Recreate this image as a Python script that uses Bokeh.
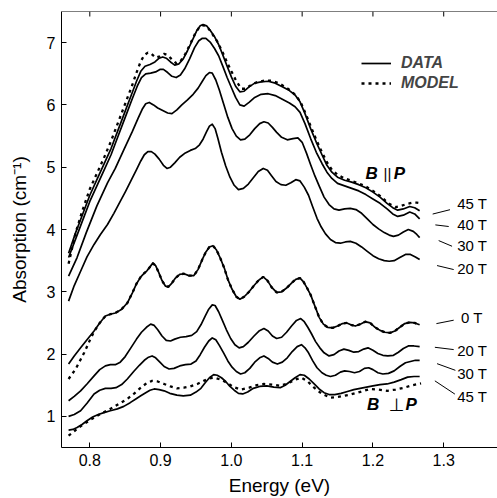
import math
from bokeh.plotting import figure
from bokeh.models import Range1d, FixedTicker, PrintfTickFormatter, Legend, LegendItem, Span
from bokeh.core.properties import value
from bokeh.embed import file_html
from bokeh.resources import INLINE

FONT = "Liberation Sans"

# ---------------- data ----------------
# B || P, data
par45_x = [0.770,0.780,0.790,0.800,0.810,0.820,0.830,0.840,0.850,0.860,0.866,0.872,0.878,0.885,0.892,0.898,0.903,0.908,0.914,0.920,0.926,0.932,0.938,0.945,0.951,0.956,0.960,0.965,0.970,0.976,0.982,0.988,0.994,1.000,1.006,1.012,1.018,1.025,1.033,1.042,1.052,1.062,1.072,1.082,1.090,1.097,1.104,1.112,1.120,1.128,1.135,1.142,1.150,1.160,1.170,1.180,1.190,1.200,1.210,1.220,1.228,1.235,1.243,1.252,1.259,1.266]
par45_y = [3.62,3.95,4.25,4.55,4.80,5.05,5.30,5.60,5.90,6.20,6.38,6.54,6.62,6.65,6.69,6.75,6.77,6.75,6.69,6.64,6.66,6.74,6.87,7.04,7.19,7.27,7.29,7.27,7.20,7.10,6.97,6.80,6.62,6.45,6.30,6.21,6.22,6.29,6.35,6.37,6.38,6.35,6.29,6.23,6.16,6.05,5.86,5.62,5.40,5.20,5.03,4.92,4.84,4.79,4.76,4.72,4.67,4.60,4.52,4.42,4.35,4.31,4.33,4.37,4.35,4.30]

par40_x = [0.770,0.780,0.790,0.800,0.810,0.820,0.830,0.840,0.850,0.860,0.867,0.873,0.879,0.886,0.893,0.899,0.904,0.910,0.916,0.922,0.928,0.934,0.941,0.948,0.954,0.959,0.964,0.970,0.976,0.982,0.988,0.994,1.000,1.006,1.012,1.018,1.025,1.033,1.042,1.052,1.062,1.072,1.082,1.090,1.097,1.104,1.112,1.120,1.128,1.135,1.142,1.150,1.160,1.170,1.180,1.190,1.200,1.210,1.220,1.228,1.235,1.243,1.252,1.259,1.266]
par40_y = [3.55,3.85,4.15,4.45,4.70,4.95,5.20,5.50,5.80,6.10,6.30,6.44,6.50,6.51,6.53,6.57,6.57,6.52,6.46,6.44,6.48,6.58,6.74,6.92,7.03,7.07,7.07,7.01,6.91,6.79,6.62,6.44,6.28,6.12,6.00,5.98,6.04,6.12,6.17,6.18,6.15,6.09,6.03,5.97,5.88,5.70,5.46,5.24,5.06,4.92,4.82,4.74,4.70,4.66,4.62,4.56,4.49,4.42,4.33,4.25,4.21,4.23,4.28,4.25,4.17]

par30_x = [0.770,0.782,0.795,0.810,0.825,0.836,0.848,0.860,0.868,0.874,0.879,0.884,0.890,0.896,0.903,0.910,0.916,0.923,0.930,0.938,0.946,0.953,0.959,0.964,0.969,0.973,0.978,0.983,0.989,0.995,1.001,1.007,1.013,1.019,1.026,1.033,1.040,1.046,1.052,1.058,1.064,1.071,1.079,1.087,1.094,1.100,1.106,1.112,1.118,1.124,1.131,1.138,1.145,1.152,1.160,1.168,1.176,1.184,1.192,1.200,1.208,1.216,1.223,1.229,1.236,1.243,1.250,1.257,1.262,1.266]
par30_y = [3.25,3.55,3.95,4.38,4.75,4.98,5.28,5.57,5.78,5.93,6.02,6.04,6.00,5.95,5.91,5.87,5.86,5.92,6.00,6.08,6.17,6.27,6.38,6.47,6.52,6.51,6.40,6.24,6.02,5.80,5.62,5.50,5.44,5.45,5.52,5.62,5.70,5.73,5.71,5.64,5.56,5.48,5.44,5.46,5.47,5.40,5.23,5.04,4.86,4.70,4.52,4.40,4.33,4.31,4.33,4.34,4.32,4.26,4.17,4.08,4.01,3.95,3.91,3.89,3.91,3.96,4.00,3.97,3.92,3.87]

par20_x = [0.770,0.778,0.787,0.796,0.806,0.815,0.825,0.834,0.843,0.850,0.858,0.866,0.872,0.877,0.882,0.887,0.892,0.898,0.904,0.909,0.914,0.920,0.927,0.935,0.942,0.949,0.955,0.960,0.965,0.969,0.973,0.977,0.981,0.986,0.992,0.998,1.004,1.010,1.017,1.024,1.031,1.038,1.045,1.051,1.057,1.063,1.070,1.077,1.084,1.091,1.097,1.103,1.109,1.115,1.121,1.127,1.133,1.140,1.147,1.154,1.161,1.168,1.176,1.184,1.192,1.200,1.208,1.216,1.223,1.230,1.238,1.246,1.253,1.260,1.266]
par20_y = [2.85,3.10,3.33,3.56,3.76,3.92,4.08,4.26,4.45,4.60,4.78,4.96,5.10,5.20,5.25,5.25,5.21,5.13,5.03,4.98,5.00,5.07,5.16,5.23,5.27,5.30,5.36,5.45,5.57,5.66,5.69,5.62,5.46,5.24,5.02,4.84,4.71,4.64,4.66,4.73,4.83,4.93,4.98,4.95,4.86,4.77,4.72,4.71,4.75,4.80,4.78,4.68,4.55,4.36,4.18,4.04,3.93,3.84,3.79,3.78,3.80,3.81,3.78,3.72,3.65,3.58,3.53,3.50,3.49,3.50,3.55,3.60,3.60,3.56,3.52]

# B || P, model (45 T)
mpar45_x = [0.770,0.780,0.790,0.800,0.810,0.820,0.830,0.840,0.850,0.860,0.866,0.872,0.877,0.882,0.887,0.893,0.899,0.905,0.910,0.916,0.922,0.928,0.935,0.942,0.949,0.955,0.960,0.966,0.972,0.980,0.987,0.994,1.000,1.007,1.014,1.020,1.028,1.037,1.047,1.057,1.067,1.077,1.085,1.092,1.098,1.105,1.112,1.120,1.128,1.135,1.142,1.150,1.160,1.170,1.180,1.190,1.200,1.210,1.218,1.225,1.232,1.240,1.248,1.256,1.262,1.268]
mpar45_y = [3.45,3.95,4.32,4.65,4.90,5.15,5.42,5.72,6.02,6.32,6.52,6.70,6.80,6.84,6.82,6.76,6.78,6.82,6.80,6.73,6.67,6.70,6.82,6.98,7.15,7.25,7.28,7.25,7.16,7.02,6.86,6.68,6.54,6.38,6.26,6.26,6.32,6.37,6.39,6.39,6.35,6.28,6.22,6.14,6.04,5.86,5.66,5.44,5.24,5.08,4.96,4.88,4.82,4.78,4.74,4.69,4.62,4.54,4.46,4.40,4.36,4.38,4.41,4.43,4.43,4.42]

# B perp P, data
per0_x = [0.770,0.778,0.787,0.796,0.806,0.814,0.822,0.829,0.836,0.844,0.853,0.860,0.866,0.872,0.877,0.881,0.885,0.889,0.893,0.897,0.902,0.907,0.911,0.916,0.921,0.927,0.933,0.940,0.947,0.953,0.959,0.964,0.969,0.974,0.979,0.984,0.990,0.995,1.001,1.007,1.012,1.018,1.025,1.032,1.039,1.045,1.051,1.057,1.064,1.071,1.078,1.085,1.091,1.097,1.102,1.107,1.112,1.118,1.124,1.130,1.136,1.143,1.150,1.157,1.163,1.169,1.175,1.182,1.189,1.196,1.203,1.210,1.217,1.224,1.231,1.238,1.245,1.252,1.259,1.266]
per0_y = [1.84,1.97,2.10,2.23,2.37,2.50,2.61,2.64,2.66,2.71,2.82,2.98,3.13,3.24,3.30,3.34,3.40,3.46,3.42,3.32,3.18,3.09,3.08,3.14,3.22,3.28,3.29,3.26,3.26,3.36,3.52,3.64,3.72,3.74,3.67,3.55,3.38,3.20,3.04,2.92,2.88,2.92,3.00,3.10,3.19,3.24,3.18,3.07,2.99,3.00,3.06,3.14,3.20,3.22,3.16,3.06,2.95,2.77,2.59,2.48,2.43,2.42,2.45,2.49,2.50,2.47,2.45,2.48,2.52,2.50,2.43,2.38,2.35,2.34,2.37,2.43,2.49,2.51,2.50,2.47]

per20_x = [0.770,0.778,0.787,0.796,0.806,0.814,0.822,0.829,0.836,0.843,0.850,0.858,0.866,0.873,0.880,0.886,0.891,0.896,0.902,0.908,0.914,0.920,0.928,0.936,0.944,0.951,0.957,0.963,0.968,0.973,0.977,0.982,0.987,0.993,0.999,1.005,1.011,1.017,1.024,1.032,1.039,1.046,1.052,1.058,1.064,1.071,1.078,1.085,1.092,1.098,1.103,1.108,1.113,1.119,1.125,1.131,1.138,1.145,1.152,1.159,1.166,1.173,1.180,1.187,1.193,1.200,1.207,1.214,1.221,1.229,1.236,1.243,1.250,1.258,1.266]
per20_y = [1.25,1.32,1.41,1.52,1.65,1.75,1.81,1.83,1.83,1.87,1.96,2.10,2.24,2.35,2.43,2.48,2.46,2.39,2.29,2.22,2.21,2.24,2.27,2.28,2.30,2.36,2.47,2.61,2.72,2.79,2.78,2.68,2.55,2.39,2.25,2.15,2.10,2.12,2.19,2.29,2.37,2.41,2.37,2.29,2.25,2.27,2.35,2.45,2.54,2.57,2.52,2.43,2.33,2.20,2.10,2.02,1.97,1.99,2.05,2.08,2.06,2.03,2.04,2.08,2.10,2.06,2.01,1.98,1.97,1.98,2.03,2.09,2.13,2.13,2.12]

per30_x = [0.770,0.778,0.787,0.796,0.806,0.814,0.822,0.830,0.837,0.845,0.853,0.862,0.870,0.877,0.883,0.888,0.893,0.899,0.905,0.912,0.919,0.927,0.935,0.943,0.950,0.956,0.962,0.968,0.973,0.978,0.983,0.989,0.995,1.001,1.007,1.013,1.019,1.026,1.033,1.040,1.046,1.052,1.058,1.065,1.072,1.079,1.086,1.093,1.099,1.104,1.109,1.115,1.121,1.128,1.134,1.140,1.147,1.154,1.160,1.167,1.174,1.181,1.188,1.194,1.200,1.207,1.214,1.222,1.230,1.238,1.246,1.253,1.260,1.266]
per30_y = [1.00,1.03,1.09,1.21,1.36,1.42,1.45,1.45,1.46,1.51,1.60,1.72,1.82,1.90,1.95,1.97,1.94,1.87,1.80,1.76,1.77,1.81,1.83,1.84,1.89,1.99,2.11,2.21,2.26,2.23,2.14,2.02,1.89,1.79,1.72,1.68,1.70,1.77,1.87,1.94,1.97,1.93,1.87,1.84,1.87,1.94,2.04,2.12,2.15,2.10,2.02,1.89,1.78,1.70,1.66,1.64,1.66,1.71,1.73,1.72,1.70,1.72,1.77,1.78,1.75,1.70,1.68,1.69,1.73,1.80,1.86,1.88,1.90,1.90]

per45_x = [0.770,0.776,0.782,0.789,0.796,0.804,0.812,0.820,0.829,0.839,0.848,0.857,0.865,0.872,0.879,0.885,0.891,0.898,0.905,0.913,0.923,0.932,0.942,0.950,0.957,0.963,0.969,0.975,0.980,0.986,0.992,0.998,1.004,1.010,1.016,1.023,1.031,1.040,1.050,1.060,1.069,1.076,1.083,1.090,1.097,1.103,1.110,1.117,1.124,1.131,1.138,1.146,1.155,1.164,1.173,1.182,1.191,1.200,1.210,1.220,1.230,1.240,1.249,1.258,1.266]
per45_y = [0.78,0.79,0.82,0.87,0.93,0.99,1.03,1.06,1.09,1.12,1.16,1.22,1.28,1.33,1.38,1.42,1.44,1.43,1.41,1.37,1.34,1.33,1.34,1.39,1.45,1.54,1.62,1.67,1.66,1.62,1.56,1.48,1.42,1.37,1.36,1.39,1.45,1.48,1.49,1.47,1.46,1.50,1.56,1.62,1.67,1.66,1.60,1.52,1.44,1.38,1.35,1.35,1.37,1.40,1.43,1.45,1.47,1.49,1.51,1.52,1.55,1.59,1.63,1.64,1.64]

# B perp P, model
mper0_x = [0.770,0.780,0.792,0.800,0.806,0.814,0.822,0.829,0.836,0.844,0.853,0.860,0.866,0.872,0.877,0.881,0.885,0.889,0.893,0.897,0.902,0.907,0.911,0.916,0.921,0.927,0.933,0.940,0.947,0.953,0.959,0.964,0.969,0.974,0.979,0.984,0.990,0.995,1.001,1.007,1.012,1.018,1.025,1.032,1.039,1.045,1.051,1.057,1.064,1.071,1.078,1.085,1.091,1.097,1.102,1.107,1.112,1.118,1.124,1.130,1.136,1.143,1.150,1.157,1.163,1.169,1.175,1.182,1.189,1.196,1.203,1.210,1.217,1.224,1.231,1.238,1.245,1.252,1.259,1.266]
mper0_y = [1.60,1.76,2.02,2.22,2.36,2.50,2.61,2.64,2.66,2.71,2.82,2.98,3.13,3.24,3.30,3.34,3.40,3.46,3.42,3.32,3.18,3.09,3.08,3.14,3.22,3.28,3.29,3.26,3.26,3.36,3.52,3.64,3.72,3.74,3.67,3.55,3.38,3.20,3.04,2.92,2.88,2.92,3.00,3.10,3.19,3.24,3.18,3.07,2.99,3.00,3.06,3.14,3.20,3.22,3.16,3.06,2.95,2.77,2.59,2.48,2.43,2.42,2.45,2.49,2.50,2.47,2.45,2.48,2.52,2.50,2.43,2.38,2.35,2.34,2.37,2.43,2.49,2.51,2.50,2.47]

mper45_x = [0.770,0.777,0.784,0.795,0.806,0.817,0.829,0.841,0.853,0.863,0.872,0.880,0.888,0.896,0.905,0.914,0.923,0.933,0.942,0.952,0.961,0.969,0.976,0.985,0.994,1.003,1.013,1.025,1.036,1.046,1.058,1.069,1.080,1.090,1.099,1.108,1.117,1.128,1.140,1.150,1.159,1.168,1.178,1.187,1.196,1.208,1.220,1.232,1.244,1.256,1.268]
mper45_y = [0.69,0.75,0.82,0.90,0.98,1.05,1.12,1.20,1.28,1.37,1.46,1.53,1.57,1.56,1.52,1.48,1.45,1.46,1.48,1.52,1.57,1.61,1.62,1.59,1.54,1.47,1.43,1.46,1.50,1.52,1.51,1.49,1.53,1.59,1.62,1.56,1.46,1.36,1.30,1.31,1.33,1.35,1.38,1.41,1.44,1.43,1.41,1.43,1.46,1.50,1.53]

x_ticks = [0.8, 0.9, 1.0, 1.1, 1.2, 1.3]
y_ticks = [1, 2, 3, 4, 5, 6, 7]

field_labels = ["45 T", "40 T", "30 T", "20 T", "0 T", "20 T", "30 T", "45 T"]

X0, X1, Y0, Y1 = 0.76, 1.376, 0.5, 7.5

# ---------------- figure ----------------
p = figure(width=497, height=498, x_range=Range1d(X0, X1), y_range=Range1d(Y0, Y1),
           output_backend="svg", toolbar_location=None,
           min_border_left=61, min_border_right=0, min_border_top=11, min_border_bottom=51)
p.outline_line_color = None
p.xgrid.visible = False
p.ygrid.visible = False
p.background_fill_color = "white"
p.border_fill_color = "white"

for ax in (p.xaxis[0], p.yaxis[0]):
    ax.major_tick_in = 5
    ax.major_tick_out = 0
    ax.minor_tick_line_color = None
    ax.axis_line_color = "black"
    ax.major_tick_line_color = "black"
    ax.major_label_text_font = FONT
    ax.major_label_text_font_size = "16px"
    ax.major_label_text_color = "black"
    ax.axis_label_text_font = FONT
    ax.axis_label_text_font_size = "19px"
    ax.axis_label_text_font_style = "normal"
    ax.axis_label_text_color = "black"

p.xaxis.ticker = FixedTicker(ticks=x_ticks)
p.xaxis.formatter = PrintfTickFormatter(format="%.1f")
p.xaxis.axis_label = "Energy (eV)"
p.xaxis.major_label_standoff = 6
p.xaxis.axis_label_standoff = 6

p.yaxis.ticker = FixedTicker(ticks=y_ticks)
p.yaxis.formatter = PrintfTickFormatter(format="%d")
p.yaxis.axis_label = "Absorption (cm\u207b\u00b9)"
p.yaxis.major_label_standoff = 6
p.yaxis.axis_label_standoff = 14

# top border of the box with inward ticks (right side of the box is cut off)
p.add_layout(Span(location=Y1, dimension="width", line_color="black", line_width=1))
p.ray(x=x_ticks, y=[Y1] * len(x_ticks), length=5, length_units="screen",
      angle=-math.pi / 2, line_color="black", line_width=1)

LW = 1.7
DOT = dict(line_dash="3 4", line_width=2.3, color="black")

r_data = None
for xs, ys in [(par45_x, par45_y), (par40_x, par40_y), (par30_x, par30_y), (par20_x, par20_y),
               (per0_x, per0_y), (per20_x, per20_y), (per30_x, per30_y), (per45_x, per45_y)]:
    r = p.line(xs, ys, line_width=LW, color="black", line_join="round")
    if r_data is None:
        r_data = r

r_model = p.line(mpar45_x, mpar45_y, **DOT)
p.line(mper0_x, mper0_y, **DOT)
p.line(mper45_x, mper45_y, **DOT)

# field labels with leader lines
lab_x = [1.319, 1.319, 1.319, 1.319, 1.3245, 1.319, 1.319, 1.319]
lab_y = [4.42, 4.08, 3.75, 3.37, 2.58, 2.05, 1.69, 1.32]
p.text(x=lab_x, y=lab_y, text=field_labels, text_baseline="middle", text_align="left",
       text_font=value(FONT), text_font_size="15px", text_color="black")
p.segment(x0=[1.2844, 1.2882, 1.2929, 1.2906, 1.2897, 1.2875, 1.2906, 1.2875],
          y0=[4.248, 4.074, 3.822, 3.421, 2.489, 2.109, 1.846, 1.570],
          x1=[1.3089, 1.3071, 1.3118, 1.3141, 1.3141, 1.3141, 1.3165, 1.3158],
          y1=[4.318, 4.048, 3.731, 3.357, 2.544, 2.072, 1.739, 1.357],
          line_width=1, color="black")

# B || P and B perp P
for tx, ty, t, st, fnt, fs in [(1.1895, 4.90, "B", "bold italic", FONT, "17px"),
                               (1.2150, 4.90, "||", "normal", FONT, "15px"),
                               (1.2294, 4.90, "P", "bold italic", FONT, "17px"),
                               (1.1918, 1.198, "B", "bold italic", FONT, "17px"),
                               (1.2225, 1.198, "\u22a5", "normal", "DejaVu Sans", "18px"),
                               (1.2459, 1.198, "P", "bold italic", FONT, "17px")]:
    p.text(x=[tx], y=[ty], text=[t], text_baseline="middle", text_align="left",
           text_font=value(fnt), text_font_size=fs, text_font_style=st, text_color="black")

legend = Legend(items=[LegendItem(label="DATA", renderers=[r_data]),
                       LegendItem(label="MODEL", renderers=[r_model])],
                location=(300, 355), border_line_color=None, background_fill_alpha=0,
                padding=0, margin=0, spacing=2, glyph_width=30, glyph_height=16,
                label_height=16, label_standoff=10, label_text_font=FONT,
                label_text_font_style="bold italic", label_text_font_size="16px")
p.add_layout(legend)

open("out.html", "w").write(file_html(p, INLINE))
